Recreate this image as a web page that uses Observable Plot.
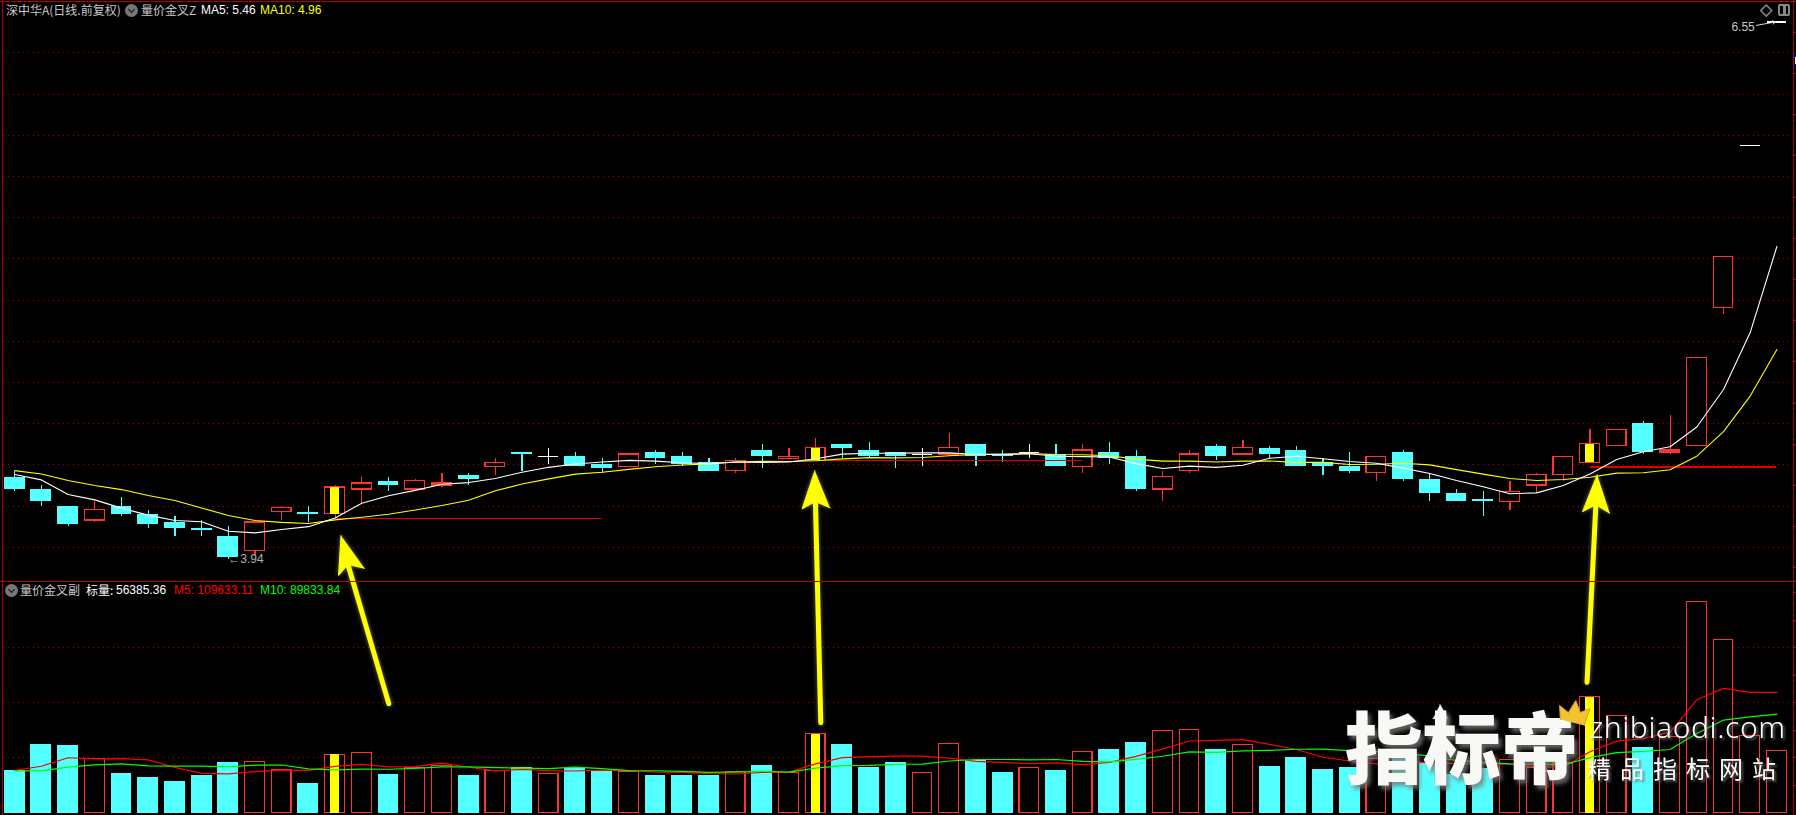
<!DOCTYPE html>
<html><head><meta charset="utf-8">
<script src="https://cdn.jsdelivr.net/npm/d3@7"></script>
<script src="https://cdn.jsdelivr.net/npm/@observablehq/plot@0.6"></script>
<style>
html,body{margin:0;padding:0;background:#000;overflow:hidden}
#stage{position:relative;width:1796px;height:815px;background:#000;overflow:hidden}
#stage svg{position:absolute;left:0}
.lbl{position:absolute;white-space:nowrap;font:12px "Liberation Sans","Noto Sans CJK SC",sans-serif;line-height:14px}
.cn{font-family:"Noto Sans CJK SC",sans-serif}
.ico{position:absolute;width:13px;height:13px;border-radius:50%;background:#777}
.ico:after{content:"";position:absolute;left:3.5px;top:2.5px;width:4px;height:4px;border-right:1.5px solid #111;border-bottom:1.5px solid #111;transform:rotate(45deg)}
.ln{position:absolute;background:#b00000}
.glow{filter:drop-shadow(0 0 2px rgba(255,255,160,.45))}
.wm{filter:drop-shadow(3px 4px 2px rgba(120,120,120,.8))}
.wm2{filter:drop-shadow(2px 2px 1px rgba(110,110,110,.8));letter-spacing:9px}
.wm3{filter:drop-shadow(2px 2px 1px rgba(110,110,110,.8));letter-spacing:.6px}
</style></head><body><div id="stage"></div>
<script>
const opens=[4.34,4.28,4.20,4.13,4.20,4.16,4.12,4.09,4.05,3.98,4.17,4.17,4.16,4.28,4.32,4.28,4.30,4.35,4.39,4.46,4.44,4.44,4.40,4.39,4.46,4.44,4.41,4.37,4.47,4.43,4.42,4.50,4.47,4.46,4.45,4.45,4.50,4.45,4.46,4.45,4.39,4.46,4.44,4.28,4.37,4.49,4.45,4.48,4.47,4.41,4.39,4.36,4.46,4.33,4.26,4.23,4.22,4.30,4.35,4.41,4.49,4.60,4.46,4.49,5.16,5.95,6.55];
const closes=[4.28,4.22,4.11,4.18,4.16,4.11,4.09,4.08,3.95,4.12,4.19,4.16,4.29,4.31,4.30,4.32,4.31,4.33,4.41,4.45,4.44,4.39,4.38,4.45,4.43,4.40,4.37,4.42,4.44,4.44,4.48,4.48,4.44,4.44,4.45,4.48,4.44,4.44,4.46,4.39,4.47,4.43,4.28,4.34,4.45,4.44,4.48,4.45,4.39,4.39,4.37,4.44,4.33,4.26,4.22,4.22,4.27,4.35,4.44,4.50,4.57,4.46,4.47,4.92,5.41,5.95,6.55];
const highs=[4.37,4.30,4.20,4.22,4.24,4.18,4.15,4.13,4.10,4.12,4.20,4.20,4.30,4.34,4.34,4.33,4.36,4.36,4.43,4.46,4.48,4.46,4.43,4.45,4.47,4.46,4.43,4.43,4.50,4.48,4.53,4.50,4.51,4.46,4.48,4.55,4.50,4.47,4.50,4.50,4.50,4.51,4.47,4.37,4.47,4.50,4.52,4.49,4.49,4.43,4.46,4.44,4.47,4.36,4.28,4.27,4.32,4.36,4.44,4.57,4.57,4.61,4.64,4.92,5.41,5.95,6.55];
const lows=[4.27,4.20,4.10,4.12,4.15,4.09,4.05,4.05,3.94,3.96,4.13,4.12,4.14,4.21,4.27,4.27,4.29,4.30,4.35,4.37,4.40,4.39,4.36,4.39,4.40,4.39,4.37,4.36,4.38,4.43,4.42,4.43,4.43,4.38,4.39,4.44,4.39,4.41,4.43,4.39,4.36,4.40,4.27,4.22,4.36,4.42,4.45,4.43,4.39,4.35,4.36,4.32,4.32,4.22,4.22,4.15,4.18,4.26,4.32,4.41,4.49,4.45,4.45,4.49,5.13,5.95,6.55];
const ma5=[4.353,4.327,4.256,4.230,4.190,4.156,4.130,4.124,4.078,4.070,4.086,4.100,4.142,4.214,4.250,4.276,4.306,4.314,4.334,4.364,4.388,4.404,4.414,4.422,4.418,4.410,4.406,4.414,4.412,4.414,4.430,4.452,4.456,4.456,4.458,4.458,4.450,4.450,4.454,4.442,4.440,4.438,4.406,4.382,4.394,4.388,4.398,4.432,4.442,4.430,4.416,4.408,4.384,4.358,4.324,4.294,4.260,4.264,4.300,4.356,4.426,4.464,4.488,4.584,4.766,5.042,5.460];
const ma10=[4.372,4.356,4.324,4.300,4.280,4.251,4.227,4.191,4.154,4.130,4.121,4.115,4.133,4.146,4.160,4.181,4.203,4.228,4.274,4.307,4.332,4.355,4.364,4.378,4.391,4.399,4.405,4.414,4.417,4.416,4.420,4.429,4.435,4.434,4.436,4.444,4.451,4.453,4.455,4.450,4.449,4.444,4.428,4.418,4.418,4.414,4.418,4.419,4.412,4.412,4.402,4.403,4.408,4.400,4.377,4.355,4.334,4.324,4.329,4.340,4.360,4.362,4.376,4.442,4.561,4.734,4.960];
const volumes=[38784,62418,61509,48783,36057,32421,28785,34239,46056,46662,39390,26967,53025,54843,35148,40905,42723,34239,38481,41511,35754,40905,38000,36966,34542,34542,34542,37269,43632,36057,71811,62721,41814,46359,36057,62418,48177,37269,40602,39087,55146,58176,64539,74235,75144,58176,61509,42723,50904,39996,41208,48783,52722,46000,35451,40000,47874,40602,45000,105141,87870,59994,69387,192102,156954,69690,56385];
const m5=[38800,42500,50200,49200,49510,48238,41511,36057,35512,37633,39026,38663,42420,44177,41875,42178,45329,41572,38299,39572,38542,38178,38930,38627,37233,36991,35718,35472,36905,37208,44662,50298,51207,51752,51752,49874,46965,46056,44905,45511,44056,46056,51510,58237,65448,66054,66721,62357,57691,50662,47268,44723,46723,45742,44833,44591,44409,41985,41785,55723,65297,67721,73478,102899,113261,109625,109633];
const m10=[38300,38300,41660,43800,44700,42900,42600,42600,42000,43572,43632,40087,39238,39845,39754,40602,41996,41996,41238,40724,40360,41754,40251,38463,38403,37767,36948,37201,37766,37221,40827,43008,43340,44329,44480,47268,48632,48632,48329,48632,46965,46511,48783,51571,55480,55055,56389,56934,57964,58055,56661,55722,54540,51717,47748,45930,44566,44354,43764,50278,54944,56065,57732,72342,84492,87461,89834];
const signalBars=[12,30,59];
const levelLines=[{from:12,to:22,price:4.14},{from:30,to:40,price:4.42},{from:59,to:66,price:4.39}];
const priceGrid=[4.0,4.2,4.4,4.6,4.8,5.0,5.2,5.4,5.6,5.8,6.0,6.2,6.4];
const priceTicks=[3.9,4.1,4.3,4.5,4.7,4.9,5.1,5.3,5.5,5.7,5.9,6.1,6.3,6.5];
const volumeGrid=[50000,100000,150000];
const volumeTicks=[25000,50000,75000,100000,125000,150000,175000,200000];
const arrowShafts=[
 {id:1,i:12.48,p:3.916},{id:1,i:14.01,p:3.241},
 {id:2,i:29.99,p:4.222},{id:2,i:30.19,p:3.148},
 {id:3,i:59.22,p:4.206},{id:3,i:58.89,p:3.345}];
const arrowHeads=[
 {id:1,i:12.22,p:4.057},{id:1,i:12.13,p:3.863},{id:1,i:12.48,p:3.916},{id:1,i:13.10,p:3.898},
 {id:2,i:29.97,p:4.372},{id:2,i:29.49,p:4.186},{id:2,i:29.99,p:4.222},{id:2,i:30.54,p:4.191},
 {id:3,i:59.27,p:4.352},{id:3,i:58.72,p:4.173},{id:3,i:59.22,p:4.206},{id:3,i:59.74,p:4.165}];
const crown=[{i:57.89,p:3.164},{i:57.86,p:3.232},{i:58.19,p:3.198},{i:58.47,p:3.256},{i:58.64,p:3.198},{i:59.0,p:3.217},{i:58.79,p:3.135}];
const crownTip=[{i:53.38,p:3.236},{i:53.66,p:3.169},{i:53.53,p:3.169},{i:53.53,p:3.10},{i:53.23,p:3.10},{i:53.23,p:3.169},{i:53.12,p:3.169}];

const bars=d3.range(opens.length).map(i=>({i,open:opens[i],close:closes[i],high:highs[i],low:lows[i],ma5:ma5[i],ma10:ma10[i],volume:volumes[i],m5:m5[i],m10:m10[i]}));
const up=bars.filter(d=>d.close>d.open), down=bars.filter(d=>d.close<d.open), flat=bars.filter(d=>d.close===d.open);
const RED="#ff3232",CYAN="#54ffff",GRID="#b00000",W=.392,H=.37,Y=.17;
const xScale={domain:[-0.532,66.734],range:[0,1796],axis:null};
const crisp={shapeRendering:"crispEdges"};
const grid=(vals)=>Plot.ruleY(vals,{x1:-0.42,x2:66.47,stroke:GRID,strokeWidth:1,strokeDasharray:"1 4",...crisp});

const lower=Plot.plot({width:1796,height:234,margin:0,style:{background:"transparent",top:"581px"},x:xScale,
 y:{domain:[-2272,210433],range:[234,0],axis:null},
 marks:[
  grid(volumeGrid),
  Plot.ruleY(volumeTicks,{x1:66.62,x2:66.734,stroke:"#c00000",...crisp}),
  Plot.rect(bars.filter(d=>d.close>=d.open),{x1:d=>d.i-H,x2:d=>d.i+H,y1:0,y2:"volume",fill:"#000",stroke:RED,strokeWidth:1.2,...crisp}),
  Plot.rect(down,{x1:d=>d.i-W,x2:d=>d.i+W,y1:0,y2:"volume",fill:CYAN,...crisp}),
  Plot.rect(bars.filter(d=>signalBars.includes(d.i)),{x1:d=>d.i-Y,x2:d=>d.i+Y,y1:0,y2:"volume",fill:"#ffff00",...crisp}),
  Plot.line(bars,{x:"i",y:"m5",stroke:"#ff0000",strokeWidth:1.2}),
  Plot.line(bars,{x:"i",y:"m10",stroke:"#00ff00",strokeWidth:1.2})
 ]});

const upper=Plot.plot({width:1796,height:815,margin:0,style:{background:"transparent",top:"0px"},x:xScale,
 y:{domain:[2.698,6.654],range:[815,0],axis:null},
 marks:[
  grid(priceGrid),
  Plot.ruleY(priceTicks,{x1:66.62,x2:66.734,stroke:"#c00000",...crisp}),
  Plot.ruleX(up,{x:"i",y1:"low",y2:"high",stroke:RED,strokeWidth:1.2,...crisp}),
  Plot.ruleX(down,{x:"i",y1:"low",y2:"high",stroke:CYAN,strokeWidth:1.2,...crisp}),
  Plot.ruleX(flat,{x:"i",y1:"low",y2:"high",stroke:"#fff",strokeWidth:1.2,...crisp}),
  Plot.rect(up,{x1:d=>d.i-H,x2:d=>d.i+H,y1:"open",y2:"close",fill:"#000",stroke:RED,strokeWidth:1.2,...crisp}),
  Plot.rect(down,{x1:d=>d.i-W,x2:d=>d.i+W,y1:"open",y2:"close",fill:CYAN,...crisp}),
  Plot.ruleY(flat,{y:"close",x1:d=>d.i-H,x2:d=>d.i+H,stroke:"#fff",strokeWidth:1.5,...crisp}),
  Plot.rect(bars.filter(d=>signalBars.includes(d.i)),{x1:d=>d.i-Y,x2:d=>d.i+Y,y1:"open",y2:"close",fill:"#ffff00",...crisp}),
  Plot.ruleY(levelLines,{x1:"from",x2:"to",y:"price",stroke:"#e00000",strokeWidth:1.5,...crisp}),
  Plot.line(bars,{x:"i",y:"ma10",stroke:"#ffff00",strokeWidth:1.1}),
  Plot.line(bars,{x:"i",y:"ma5",stroke:"#ffffff",strokeWidth:1.1}),
  Plot.text(["←3.94"],{x:8,y:3.94,text:d=>d,textAnchor:"start",fill:"#b0b0b0",fontSize:12,fontFamily:"Liberation Sans"}),
  Plot.text(["6.55"],{x:65.17,y:6.523,text:d=>d,textAnchor:"end",fill:"#c8c8c8",fontSize:12,fontFamily:"Liberation Sans"}),
  Plot.arrow([{a:65.23,b:6.533,c:65.95,d:6.55}],{x1:"a",y1:"b",x2:"c",y2:"d",stroke:"#ddd",strokeWidth:1,headLength:5}),
  Plot.dot([{i:65.6,p:6.605}],{x:"i",y:"p",symbol:"diamond2",r:5,stroke:"#888",fill:"none"}),
  Plot.line(arrowShafts,{x:"i",y:"p",z:"id",stroke:"#ffff00",strokeWidth:5,strokeLinecap:"round",className:"glow"}),
  Plot.line(arrowHeads,{x:"i",y:"p",z:"id",stroke:"#ffff00",fill:"#ffff00",strokeWidth:1,className:"glow"}),
  Plot.line(crownTip,{x:"i",y:"p",fill:"#f8f8f5",stroke:"#f8f8f5",strokeWidth:1,className:"wm"}),
  Plot.text(["指标帝"],{x:54.2,y:3.0,text:d=>d,fill:"#f8f8f5",fontSize:78,fontWeight:900,fontFamily:"Noto Sans CJK SC",className:"wm"}),
  Plot.line(crown,{x:"i",y:"p",fill:"#f2c230",stroke:"#d9a520",strokeWidth:1}),
  Plot.text(["zhibiaodi.com"],{x:62.65,y:3.12,text:d=>d,fill:"#fff",fontSize:30,fontWeight:300,fontFamily:"Noto Sans",className:"wm3"}),
  Plot.text(["精品指标网站"],{x:62.6,y:2.916,text:d=>d,fill:"#fff",fontSize:24,fontFamily:"Noto Sans CJK SC",className:"wm2"})
 ]});

const stage=document.getElementById("stage");
stage.append(lower,upper);

const rect=(l,t,w,h,bg)=>{const e=document.createElement("div");e.className="ln";e.style.cssText=`left:${l}px;top:${t}px;width:${w}px;height:${h}px`+(bg?`;background:${bg}`:"");stage.append(e);return e;};
rect(0,1,1796,1); rect(2,0,1,815); rect(1793,0,1,815); rect(0,581,1796,1);
rect(1794,52,2,17,"#00008b"); rect(1795,57,1,7,"#fff");
const sq=rect(1778,4,8,8,"transparent"); sq.style.border="2px solid #888"; sq.style.borderRadius="2px";
rect(1783,6,3,8,"#888");

const headerLabels=[
 {text:"深中华A(日线.前复权)",x:6,y:3,c:"#c8c8c8",cn:1},
 {text:"量价金叉Z",x:141,y:3,c:"#c8c8c8",cn:1},
 {text:"MA5: 5.46",x:201,y:3,c:"#ffffff"},
 {text:"MA10: 4.96",x:260,y:3,c:"#ffff00"},
 {text:"量价金叉副",x:20,y:583,c:"#c8c8c8",cn:1},
 {text:"标量:",x:86,y:583,c:"#ffffff",cn:1},
 {text:"56385.36",x:116,y:583,c:"#ffffff"},
 {text:"M5: 109633.11",x:174,y:583,c:"#ff0000"},
 {text:"M10: 89833.84",x:260,y:583,c:"#00ff00"}];
for(const d of headerLabels){const e=document.createElement("div");e.className="lbl"+(d.cn?" cn":"");e.textContent=d.text;e.style.left=d.x+"px";e.style.top=d.y+"px";e.style.color=d.c;stage.append(e);}
for(const [x,y] of [[125,4],[5,584]]){const e=document.createElement("div");e.className="ico";e.style.left=x+"px";e.style.top=y+"px";stage.append(e);}
</script></body></html>
